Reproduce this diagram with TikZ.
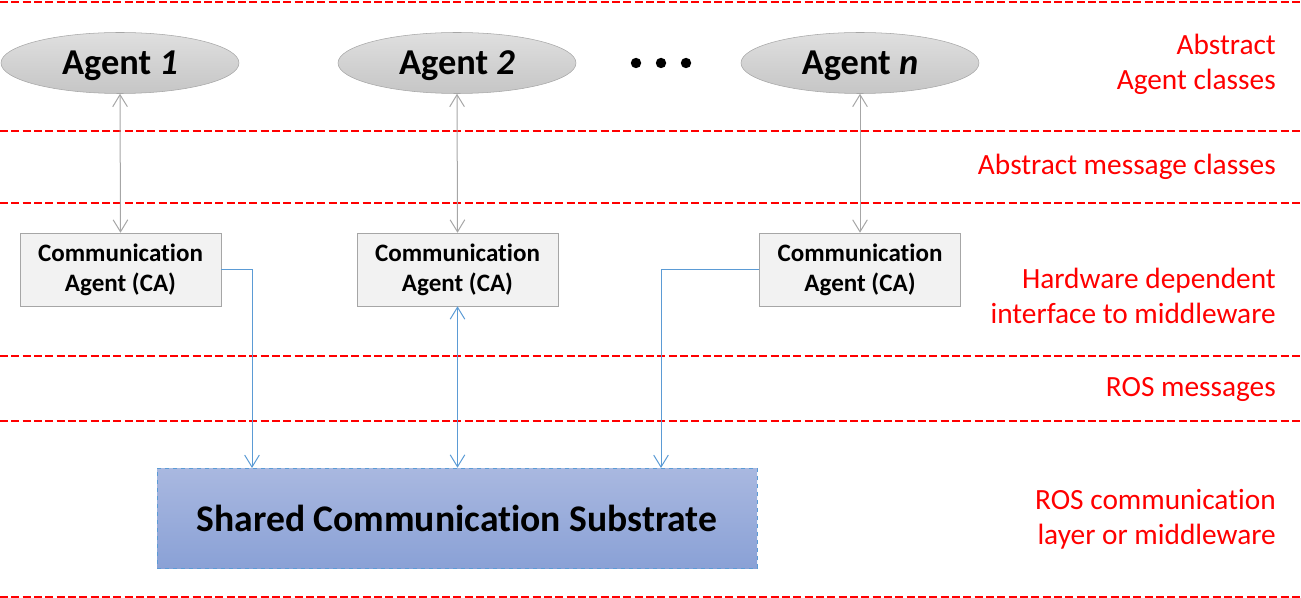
\documentclass[tikz,border=0pt]{standalone}
\usepackage{fontspec}
\setmainfont[Ligatures=NoCommon]{Carlito}
\usetikzlibrary{arrows.meta,positioning,shapes.geometric}

\definecolor{ellgray}{HTML}{A6A6A6}
\definecolor{boxgray}{HTML}{F2F2F2}
\definecolor{linkblue}{HTML}{5B9BD5}
\definecolor{subtop}{HTML}{A9B8E0}
\definecolor{subbot}{HTML}{8AA1D6}

\begin{document}
\begin{tikzpicture}[x=0.75pt,y=-0.75pt,
  >={Straight Barb[length=9pt,width=11pt]},
  agent/.style={ellipse,draw=ellgray,top color=gray!25,bottom color=gray!45,
    minimum width=178.5pt,minimum height=45.75pt,inner sep=0pt,
    text height=17pt,text depth=0pt,
    font=\fontsize{27.3}{30}\selectfont\bfseries},
  cabox/.style={rectangle,draw=ellgray,fill=boxgray,minimum width=150.75pt,
    minimum height=54.75pt,align=center,inner sep=0pt,
    font=\fontsize{18.8}{22.5}\selectfont\bfseries},
  substrate/.style={rectangle,draw=linkblue,dashed,top color=subtop,bottom color=subbot,
    minimum width=450pt,minimum height=75pt,
    font=\fontsize{28.2}{30}\selectfont\bfseries},
  layer/.style={anchor=east,align=right,text=red,inner sep=0pt,
    font=\fontsize{22}{26.25}\selectfont},
  sep/.style={red,line width=1.1pt,dash pattern=on 6pt off 2.5pt},
  graylink/.style={<->,draw=ellgray,line width=0.75pt},
  bluelink/.style={draw=linkblue,line width=0.75pt}]
  \useasboundingbox (0,0) rectangle (1301,598);

  % layer separators
  \foreach \y in {2,131,203,356,421,597}
    \draw[sep] (0,\y) -- (1301,\y);

  % agents
  \node[agent] (a1) at (120,63) {Agent \textit{1}};
  \node[agent] (a2) at (457,63) {Agent \textit{2}};
  \node[agent] (an) at (860,63) {Agent \textit{n}};
  \foreach \x in {636,661,686}
    \fill (\x,63) circle (3.9pt);

  % communication agents
  \node[cabox] (ca1) at (120.5,269.5) {Communication\\Agent (CA)};
  \node[cabox] (ca2) at (457.5,269.5) {Communication\\Agent (CA)};
  \node[cabox] (ca3) at (860,269.5) {Communication\\Agent (CA)};

  % middleware
  \node[substrate] (sub) at (457,518) {Shared Communication Substrate};
  \coordinate (s1) at (252,468);
  \coordinate (s3) at (661,468);

  \draw[graylink] (a1.south) -- (ca1.north);
  \draw[graylink] (a2.south) -- (ca2.north);
  \draw[graylink] (an.south) -- (ca3.north);
  \draw[bluelink,->] (ca1.east) -| (s1);
  \draw[bluelink,<->] (ca2.south) -- (ca2.south |- sub.north);
  \draw[bluelink,->] (ca3.west) -| (s3);

  % layer names
  \node[layer] (l1) at (1276,64) {Abstract\\Agent classes};
  \node[layer] (l2) at (1276,167) {Abstract message classes};
  \node[layer] (l3) at (1276,296) {Hardware dependent\\interface to middleware};
  \node[layer] (l4) at (1276,390) {ROS messages};
  \node[layer] (l5) at (1276,519) {ROS communication\\layer or middleware};
\end{tikzpicture}
\end{document}
